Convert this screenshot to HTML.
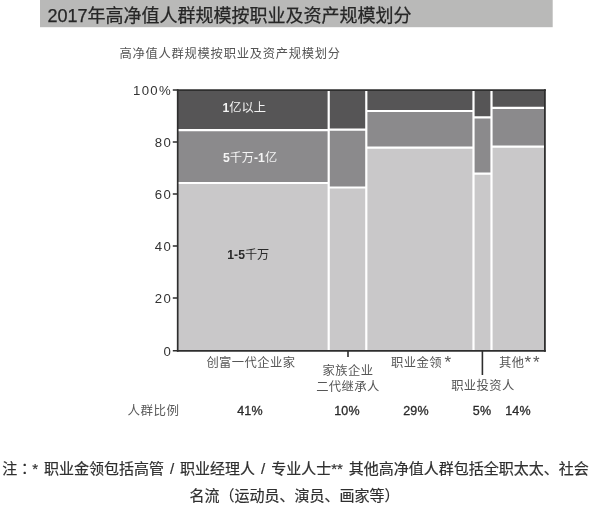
<!DOCTYPE html>
<html lang="zh-CN">
<head>
<meta charset="utf-8">
<title>2017年高净值人群规模按职业及资产规模划分</title>
<style>
  html, body { margin: 0; padding: 0; background: #ffffff; }
  body { width: 600px; height: 513px; overflow: hidden; position: relative;
         font-family: "Liberation Sans", "Noto Sans CJK SC", sans-serif; }
  #chart { position: absolute; left: 0; top: 0; width: 600px; height: 440px; display: block; }
  #chart text { font-family: "Liberation Sans", "Noto Sans CJK SC", sans-serif; }
  .note { position: absolute; left: 0; top: 456.2px; width: 591px; margin: 0; text-align: center;
          font-size: 15px; line-height: 26.6px; color: #2f2f2f; white-space: nowrap; word-spacing: 1.8px; -webkit-text-stroke: 0.2px #2f2f2f; }
  .note .tc { font-family: "Liberation Sans", "Noto Sans CJK TC", sans-serif; }
</style>
</head>
<body>
<svg id="chart" width="600" height="440" viewBox="0 0 600 440">
  <!-- header bar -->
  <rect x="40" y="0" width="512.7" height="27.2" fill="#b9b9b8"/>
  <text x="47.5" y="21.7" font-size="18" fill="#262626" stroke="#262626" stroke-width="0.25">2017年高净值人群规模按职业及资产规模划分</text>

  <!-- subtitle -->
  <text x="119.5" y="58.4" font-size="12.3" letter-spacing="0.72" fill="#555">高净值人群规模按职业及资产规模划分</text>

  <!-- mosaic plot : stacked fills -->
  <g>
    <!-- col 1 : 41% -->
    <rect x="177" y="90" width="152" height="41" fill="#565556"/>
    <rect x="177" y="130.2" width="152" height="53" fill="#8b8a8c"/>
    <rect x="177" y="183" width="152" height="168" fill="#c9c8c9"/>
    <!-- col 2 : 10% -->
    <rect x="328.7" y="90" width="38" height="40" fill="#565556"/>
    <rect x="328.7" y="129.2" width="38" height="59" fill="#8b8a8c"/>
    <rect x="328.7" y="187.5" width="38" height="163" fill="#c9c8c9"/>
    <!-- col 3 : 29% -->
    <rect x="366.3" y="90" width="108" height="21" fill="#565556"/>
    <rect x="366.3" y="110.8" width="108" height="37" fill="#8b8a8c"/>
    <rect x="366.3" y="147" width="108" height="204" fill="#c9c8c9"/>
    <!-- col 4 : 5% -->
    <rect x="473.5" y="90" width="18.5" height="28" fill="#565556"/>
    <rect x="473.5" y="117.4" width="18.5" height="56" fill="#8b8a8c"/>
    <rect x="473.5" y="173" width="18.5" height="178" fill="#c9c8c9"/>
    <!-- col 5 : 14% -->
    <rect x="491.5" y="90" width="53" height="18" fill="#565556"/>
    <rect x="491.5" y="107.8" width="53" height="39" fill="#8b8a8c"/>
    <rect x="491.5" y="146.3" width="53" height="204.5" fill="#c9c8c9"/>
  </g>
  <!-- white separators -->
  <g stroke="#ffffff" stroke-width="2.2" fill="none">
    <path d="M177 130.2 H328.7 M328.7 129.7 H366.3 M366.3 111 H473.5 M473.5 117.4 H491.5 M491.5 107.8 H545"/>
    <path d="M177 183 H328.7 M328.7 187.5 H366.3 M366.3 147.6 H473.5 M473.5 173.7 H491.5 M491.5 146.7 H545"/>
    <path d="M328.7 90 V351 M366.3 90 V351 M473.5 90 V351 M491.5 90 V351"/>
  </g>

  <!-- frame -->
  <g stroke="#2e2e2e" fill="none">
    <path d="M177.7 89.2 V351.7" stroke-width="1.7"/>
    <path d="M176.9 350.85 H545.8" stroke-width="1.8"/>
    <path d="M176.9 90.1 H545.8" stroke-width="1.8"/>
    <path d="M544.9 89.2 V351.7" stroke-width="1.8"/>
    <!-- y ticks -->
    <path d="M172.8 90 H177 M172.8 142 H177 M172.8 194 H177 M172.8 246 H177 M172.8 298 H177 M172.8 350.7 H177" stroke-width="1.6"/>
    <!-- x ticks -->
    <path d="M348 351 V357" stroke-width="1.6"/>
    <path d="M482.4 351 V375" stroke-width="1.6"/>
  </g>

  <!-- y axis labels -->
  <g font-size="13.2" letter-spacing="1.35" fill="#333" text-anchor="end">
    <text x="172.1" y="94.8">100%</text>
    <text x="172.1" y="146.8">80</text>
    <text x="172.1" y="198.8">60</text>
    <text x="172.1" y="250.8">40</text>
    <text x="172.1" y="302.8">20</text>
    <text x="172.1" y="355.9">0</text>
  </g>

  <!-- inner labels -->
  <g font-size="12.2" text-anchor="middle">
    <text x="244.2" y="111.8" fill="#f4f4f4"><tspan font-weight="bold">1</tspan>亿以上</text>
    <text x="250" y="161.8" fill="#f4f4f4"><tspan font-weight="bold">5</tspan>千万<tspan font-weight="bold">-1</tspan>亿</text>
    <text x="248.3" y="258.6" fill="#2a2a2a"><tspan font-weight="bold">1-5</tspan>千万</text>
  </g>

  <!-- category labels -->
  <g font-size="12.3" letter-spacing="0.45" fill="#565656">
    <text x="251" y="367" text-anchor="middle">创富一代企业家</text>
    <text x="348" y="374.5" text-anchor="middle">家族企业</text>
    <text x="348" y="391" text-anchor="middle">二代继承人</text>
    <text x="391" y="367">职业金领<tspan font-size="17" dx="2.6" dy="1.4" letter-spacing="1.9">*</tspan></text>
    <text x="483" y="390" text-anchor="middle">职业投资人</text>
    <text x="499" y="367">其他<tspan font-size="17" dx="0" dy="1.4" letter-spacing="1.9">**</tspan></text>
  </g>

  <!-- percentage row -->
  <text x="127.5" y="415" font-size="12.5" letter-spacing="0.5" fill="#5c5c5c">人群比例</text>
  <g font-size="12.5" fill="#2a2a2a" stroke="#2a2a2a" stroke-width="0.3" text-anchor="middle" letter-spacing="0.2">
    <text x="250" y="415.3">41%</text>
    <text x="347" y="415.3">10%</text>
    <text x="416" y="415.3">29%</text>
    <text x="482" y="415.3">5%</text>
    <text x="518" y="415.3">14%</text>
  </g>
</svg>

<p class="note">注<span class="tc" lang="zh-TW">：</span>* 职业金领包括高管 / 职业经理人 / 专业人士** 其他高净值人群包括全职太太、社会<br><span style="position:relative;left:-1px">名流（运动员、演员、画家等）</span></p>
</body>
</html>
